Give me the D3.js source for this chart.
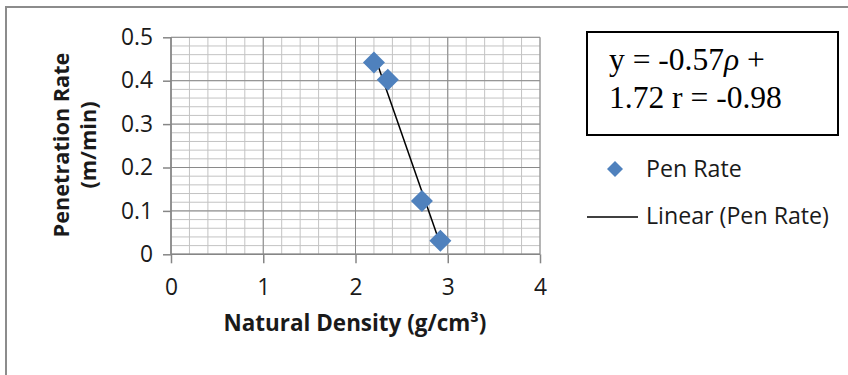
<!DOCTYPE html>
<html><head><meta charset="utf-8">
<script src="https://cdn.jsdelivr.net/npm/d3@7"></script>
<style>body{margin:0;background:#fff}svg{display:block}</style>
</head><body>
<svg id="c" width="848" height="375"></svg>
<script>
const density = [2.20, 2.35, 2.72, 2.92];
const penRate = [0.442, 0.402, 0.123, 0.031];
const xTicks = [0, 1, 2, 3, 4];
const yTicks = [0, 0.1, 0.2, 0.3, 0.4, 0.5];
const seriesName = "Pen Rate";
const trendName = "Linear (Pen Rate)";
const eqLine1 = ["y = -0.57", "\u03C1", " +"];
const eqLine2 = "1.72 r = -0.98";
const xTitle = "Natural Density (g/cm\u00B3)";
const yTitle = ["Penetration Rate", "(m/min)"];

const svg = d3.select("#c");
const W = 848, H = 375;
svg.append("rect").attr("x",6).attr("y",7).attr("width",W).attr("height",H)
  .attr("fill","#fff").attr("stroke","#8c8c8c").attr("stroke-width",2);

const x = d3.scaleLinear().domain([0,4]).range([171,540]);
const y = d3.scaleLinear().domain([0,0.5]).range([254.3,37.3]);

function fit(t, target){
  const fs = +t.attr("font-size");
  const w = t.node().getComputedTextLength();
  t.attr("font-size", fs*target/w);
  return fs*target/w;
}

// tick font size from measured "0.5" width
const probe = svg.append("text").attr("font-family","'Open Sans'").attr("font-size",21).text("0.5");
const tickFS = fit(probe,32);
probe.remove();

// minor grid
const g = svg.append("g");
g.selectAll(".mx").data(d3.range(0,4.0001,0.2)).join("line")
  .attr("x1",d=>x(d)).attr("x2",d=>x(d)).attr("y1",y(0)).attr("y2",y(0.5))
  .attr("stroke","#c3c3c3").attr("stroke-width",1);
g.selectAll(".my").data(d3.range(0,0.5001,0.02)).join("line")
  .attr("x1",x(0)).attr("x2",x(4)).attr("y1",d=>y(d)).attr("y2",d=>y(d))
  .attr("stroke","#c3c3c3").attr("stroke-width",1);
// major grid
g.selectAll(".Mx").data(xTicks).join("line")
  .attr("x1",d=>x(d)).attr("x2",d=>x(d)).attr("y1",y(0)).attr("y2",y(0.5))
  .attr("stroke","#8a8a8a").attr("stroke-width",1);
g.selectAll(".My").data(yTicks).join("line")
  .attr("x1",x(0)).attr("x2",x(4)).attr("y1",d=>y(d)).attr("y2",d=>y(d))
  .attr("stroke","#8a8a8a").attr("stroke-width",1);

// axes
const xAxis = d3.axisBottom(x).tickValues(xTicks).tickSize(9).tickPadding(16).tickFormat(d3.format("d"));
const yAxis = d3.axisLeft(y).tickValues(yTicks).tickSize(8).tickPadding(10).tickFormat(d=>d===0?"0":d3.format(".1f")(d));
const xa = svg.append("g").attr("transform",`translate(0,${y(0)})`).call(xAxis);
const ya = svg.append("g").attr("transform",`translate(${x(0)},0)`).call(yAxis);
[xa,ya].forEach(a=>{
  a.select(".domain").attr("stroke","#868686").attr("stroke-width",1.5);
  a.selectAll(".tick line").attr("stroke","#868686").attr("stroke-width",1.5);
  a.selectAll("text").attr("font-family","'Open Sans'").attr("font-size",tickFS).attr("fill","#1a1a1a");
});
ya.select(".domain").attr("d",`M0,${y(0.5)}V${y(0)}`);
xa.select(".domain").attr("d",`M${x(0)},0H${x(4)}`);

// trendline (least squares fit of the series)
const mx = d3.mean(density), my = d3.mean(penRate);
const slope = d3.sum(density.map((d,i)=>(d-mx)*(penRate[i]-my))) / d3.sum(density.map(d=>(d-mx)*(d-mx)));
const icpt = my - slope*mx;
const [x0,x1] = d3.extent(density);
svg.append("line").attr("x1",x(x0)).attr("y1",y(icpt+slope*x0))
  .attr("x2",x(x1)).attr("y2",y(icpt+slope*x1))
  .attr("stroke","#000").attr("stroke-width",1.5);

// points
const sym = d3.symbol().type(d3.symbolSquare).size(243);
svg.selectAll(".pt").data(density).join("path")
  .attr("d",sym).attr("fill","#4F81BD")
  .attr("transform",(d,i)=>`translate(${x(d)},${y(penRate[i])}) rotate(45)`);

// titles
const xt = svg.append("text").attr("x",355).attr("y",331).attr("text-anchor","middle")
  .attr("font-family","'Open Sans'").attr("font-weight","bold").attr("font-size",19).attr("fill","#1a1a1a").text(xTitle);
fit(xt,263);
const yt = svg.append("g").attr("transform","translate(0,145) rotate(-90)");
const yt1 = yt.append("text").attr("x",0).attr("y",69).attr("text-anchor","middle")
  .attr("font-family","'Open Sans'").attr("font-weight","bold").attr("font-size",19).attr("fill","#1a1a1a").text(yTitle[0]);
fit(yt1,185);
yt.append("text").attr("x",0).attr("y",96).attr("text-anchor","middle")
  .attr("font-family","'Open Sans'").attr("font-weight","bold").attr("font-size",+yt1.attr("font-size")).attr("fill","#1a1a1a").text(yTitle[1]);

// equation box
svg.append("rect").attr("x",587).attr("y",32).attr("width",251).attr("height",103)
  .attr("fill","#fff").attr("stroke","#000").attr("stroke-width",2);
const e2 = svg.append("text").attr("x",609).attr("y",108).attr("font-family","'Liberation Serif'")
  .attr("font-size",30).attr("fill","#000").text(eqLine2);
const eFS = fit(e2,173);
const e1 = svg.append("text").attr("x",609).attr("y",70).attr("font-family","'Liberation Serif'")
  .attr("font-size",eFS).attr("fill","#000");
e1.selectAll("tspan").data(eqLine1).join("tspan")
  .attr("font-style",(d,i)=>i===1?"italic":"normal").text(d=>d);

// legend
svg.append("path").attr("d",d3.symbol().type(d3.symbolSquare).size(128))
  .attr("fill","#4F81BD").attr("transform","translate(615,169) rotate(45)");
const l1 = svg.append("text").attr("x",646).attr("y",177).attr("font-family","'Open Sans'")
  .attr("font-size",21).attr("fill","#1a1a1a").text(seriesName);
svg.append("line").attr("x1",587).attr("x2",638).attr("y1",217).attr("y2",217)
  .attr("stroke","#000").attr("stroke-width",1.3);
const l2 = svg.append("text").attr("x",646).attr("y",224).attr("font-family","'Open Sans'")
  .attr("font-size",21).attr("fill","#1a1a1a").text(trendName);
fit(l2,183);
l1.attr("font-size", l2.attr("font-size"));
</script>
</body></html>
